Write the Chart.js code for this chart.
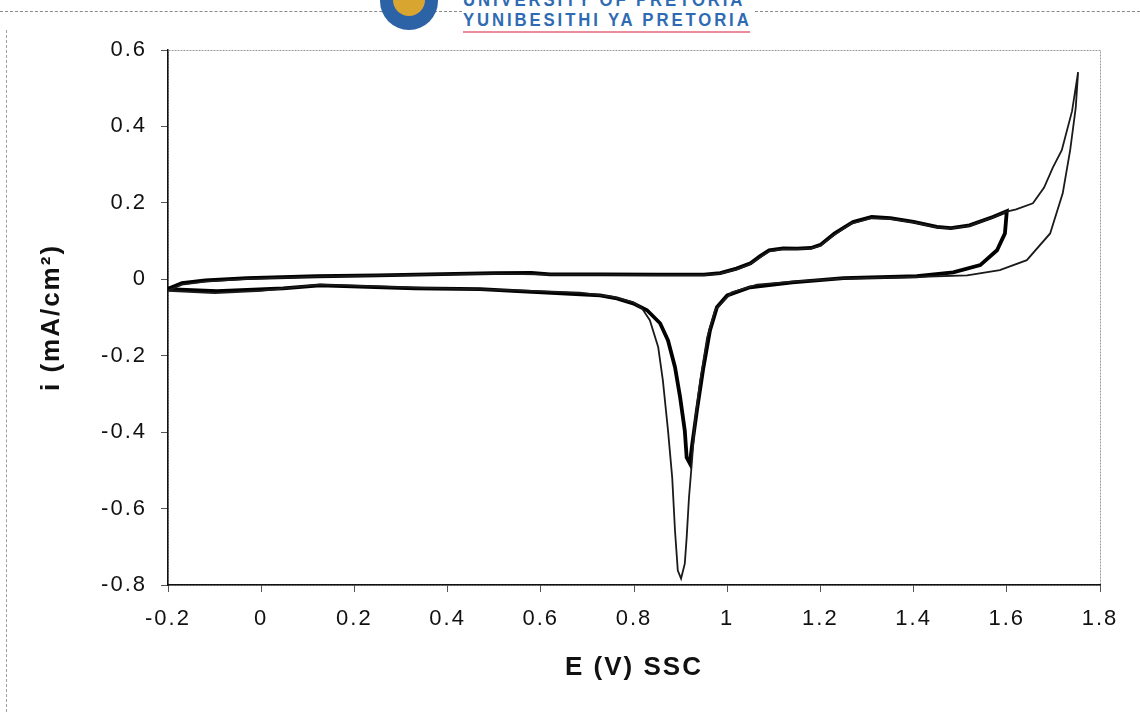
<!DOCTYPE html>
<html>
<head>
<meta charset="utf-8">
<script src="https://cdn.jsdelivr.net/npm/chart.js@4.4.1/dist/chart.umd.min.js"></script>
<style>
  body { margin: 0; background: #fff; }
  #wrap { position: relative; width: 1140px; height: 712px; overflow: hidden; }
  #plot { position: absolute; left: 0; top: 0; }
  .rule-top { position: absolute; top: 11px; height: 0; border-top: 1px dashed #8a8a8a; }
  .rule-left { position: absolute; left: 6px; top: 30px; bottom: 0; width: 0; border-left: 1px dashed #a0a0a0; }
  .crest { position: absolute; left: 380px; top: -8px; width: 58px; height: 38px; background: #2c62a6; border-radius: 4px 4px 30px 30px; }
  .crest div { position: absolute; left: 13px; top: 2px; width: 32px; height: 22px; background: #d9a531; border-radius: 2px 2px 16px 16px; }
  .uni { position: absolute; left: 463px; font-family: "Liberation Sans", Arial, sans-serif; font-weight: bold; font-size: 18px; color: #2f6bb3; letter-spacing: 3.1px; white-space: nowrap; line-height: 18px; transform: scaleX(0.93); transform-origin: left top; }
  .uline { position: absolute; left: 463px; top: 31px; width: 287px; height: 2px; background: #ec8b9c; }
</style>
</head>
<body>
<div id="wrap">
  <div class="rule-top" style="left:0;width:462px"></div>
  <div class="rule-top" style="left:755px;width:385px"></div>
  <div class="rule-left"></div>
  <div class="crest"><div></div></div>
  <div class="uni" style="top:-9px">UNIVERSITY OF PRETORIA</div>
  <div class="uni" style="top:11px">YUNIBESITHI YA PRETORIA</div>
  <div class="uline"></div>
  <canvas id="plot" width="1140" height="712"></canvas>
</div>
<script>
// axis ticks
const xTicks = [-0.2, 0, 0.2, 0.4, 0.6, 0.8, 1, 1.2, 1.4, 1.6, 1.8];
const yTicks = [-0.8, -0.6, -0.4, -0.2, 0, 0.2, 0.4, 0.6];

// cycle reversed at 1.6 V (heavy line): potential (V) and current (mA/cm2)
const cycle16E = [-0.2, -0.17, -0.12, -0.03, 0.12, 0.25, 0.36, 0.5, 0.58, 0.62, 0.73, 0.85, 0.95, 0.985, 1.02, 1.05, 1.07, 1.09, 1.12, 1.15, 1.18, 1.2, 1.23, 1.27, 1.31, 1.35, 1.4, 1.45, 1.48, 1.52, 1.57, 1.6,
                  1.596, 1.579, 1.543, 1.485, 1.407, 1.25, 1.14, 1.049, 1.0, 0.978, 0.963, 0.948, 0.935, 0.924, 0.92,
                  0.913, 0.909, 0.899, 0.888, 0.873, 0.856, 0.828, 0.798, 0.763, 0.727, 0.55, 0.47, 0.33, 0.126, 0.047, -0.095, -0.2];
const cycle16I = [-0.025, -0.01, -0.003, 0.003, 0.008, 0.01, 0.013, 0.016, 0.017, 0.013, 0.013, 0.012, 0.012, 0.016, 0.028, 0.042, 0.06, 0.076, 0.081, 0.08, 0.082, 0.09, 0.12, 0.15, 0.163, 0.16, 0.15, 0.137, 0.134, 0.141, 0.163, 0.178,
                  0.12, 0.076, 0.037, 0.018, 0.008, 0.003, -0.008, -0.021, -0.042, -0.073, -0.134, -0.238, -0.343, -0.44, -0.482,
                  -0.466, -0.396, -0.309, -0.23, -0.16, -0.115, -0.081, -0.063, -0.05, -0.042, -0.031, -0.026, -0.024, -0.016, -0.024, -0.031, -0.026];

// cycle reversed at 1.75 V (light line)
const cycle175E = [-0.2, -0.17, -0.12, -0.03, 0.12, 0.36, 0.5, 0.62, 0.73, 0.85, 0.95, 0.985, 1.02, 1.05, 1.07, 1.09, 1.12, 1.15, 1.18, 1.2, 1.225, 1.265, 1.31, 1.35, 1.4, 1.45, 1.48, 1.52, 1.57, 1.6, 1.62, 1.656, 1.68, 1.699, 1.718, 1.74, 1.753,
                   1.748, 1.736, 1.72, 1.693, 1.643, 1.585, 1.515, 1.4, 1.25, 1.14, 1.064, 1.01, 0.974, 0.957, 0.942, 0.931, 0.924, 0.918, 0.913, 0.909, 0.901,
                   0.894, 0.888, 0.882, 0.873, 0.862, 0.852, 0.834, 0.817, 0.798, 0.755, 0.684, 0.55, 0.33, 0.126, 0.0, -0.1, -0.2];
const cycle175I = [-0.03, -0.014, -0.006, 0.001, 0.007, 0.012, 0.015, 0.012, 0.012, 0.011, 0.011, 0.015, 0.026, 0.04, 0.057, 0.073, 0.079, 0.079, 0.081, 0.088, 0.112, 0.145, 0.16, 0.158, 0.149, 0.136, 0.133, 0.14, 0.162, 0.177, 0.183, 0.199, 0.24, 0.293, 0.338, 0.44, 0.542,
                   0.45, 0.338, 0.225, 0.12, 0.05, 0.024, 0.01, 0.006, 0.002, -0.006, -0.014, -0.034, -0.081, -0.152, -0.265, -0.369, -0.482, -0.571, -0.676, -0.744, -0.783,
                   -0.762, -0.658, -0.519, -0.396, -0.265, -0.178, -0.107, -0.076, -0.06, -0.046, -0.035, -0.029, -0.022, -0.014, -0.03, -0.036, -0.03];

const toPoints = (es, is) => es.map((e, k) => ({ x: e, y: is[k] }));
const fmt = v => String(Number(v.toFixed(1)));

const spacing = {
    id: 'spacing',
    beforeLayout(chart) { chart.ctx.letterSpacing = '2px'; },
    beforeDraw(chart) {
        const ctx = chart.ctx, a = chart.chartArea;
        ctx.letterSpacing = '2px';
        ctx.save();
        ctx.strokeStyle = '#9a9a9a';
        ctx.lineWidth = 1;
        ctx.setLineDash([2, 1]);
        ctx.strokeRect(a.left + 0.5, a.top + 0.5, a.right - a.left, a.bottom - a.top);
        ctx.restore();
    }
};

const tickFont = { family: "'Liberation Sans', Arial, sans-serif", size: 22 };
const titleFont = { family: "'Liberation Sans', Arial, sans-serif", size: 26, weight: 'bold' };

new Chart(document.getElementById('plot'), {
    type: 'scatter',
    data: {
        datasets: [
            { label: 'to 1.75 V', data: toPoints(cycle175E, cycle175I), showLine: true, borderColor: '#1a1a1a', borderWidth: 1.8, pointRadius: 0, tension: 0 },
            { label: 'to 1.6 V', data: toPoints(cycle16E, cycle16I), showLine: true, borderColor: '#000', borderWidth: 3.8, pointRadius: 0, tension: 0 }
        ]
    },
    options: {
        responsive: false,
        devicePixelRatio: 1,
        animation: false,
        layout: { padding: { top: 50, right: 40, left: 0, bottom: 0 } },
        plugins: { legend: { display: false }, tooltip: { enabled: false } },
        scales: {
            x: {
                type: 'linear', min: -0.2, max: 1.8,
                afterFit: s => { s.height = 127; },
                afterBuildTicks: s => { s.ticks = xTicks.map(v => ({ value: v })); },
                ticks: { callback: fmt, font: tickFont, color: '#111', padding: 14, maxRotation: 0 },
                grid: { display: true, drawOnChartArea: false, drawTicks: true, tickLength: 7, tickColor: '#555' },
                border: { display: true, color: '#111', width: 1.5 },
                title: { display: true, text: 'E (V) SSC', font: titleFont, color: '#111', padding: { top: 0, bottom: 29 } }
            },
            y: {
                type: 'linear', min: -0.8, max: 0.6,
                afterFit: s => { s.width = 168; },
                afterBuildTicks: s => { s.ticks = yTicks.map(v => ({ value: v })); },
                ticks: { callback: fmt, font: tickFont, color: '#111', padding: 14 },
                grid: { display: true, drawOnChartArea: false, drawTicks: true, tickLength: 7, tickColor: '#555' },
                border: { display: true, color: '#111', width: 1.5 },
                title: { display: true, text: 'i (mA/cm²)', font: titleFont, color: '#111', padding: { top: 36, bottom: 0 } }
            }
        }
    },
    plugins: [spacing]
});
</script>
</body>
</html>
